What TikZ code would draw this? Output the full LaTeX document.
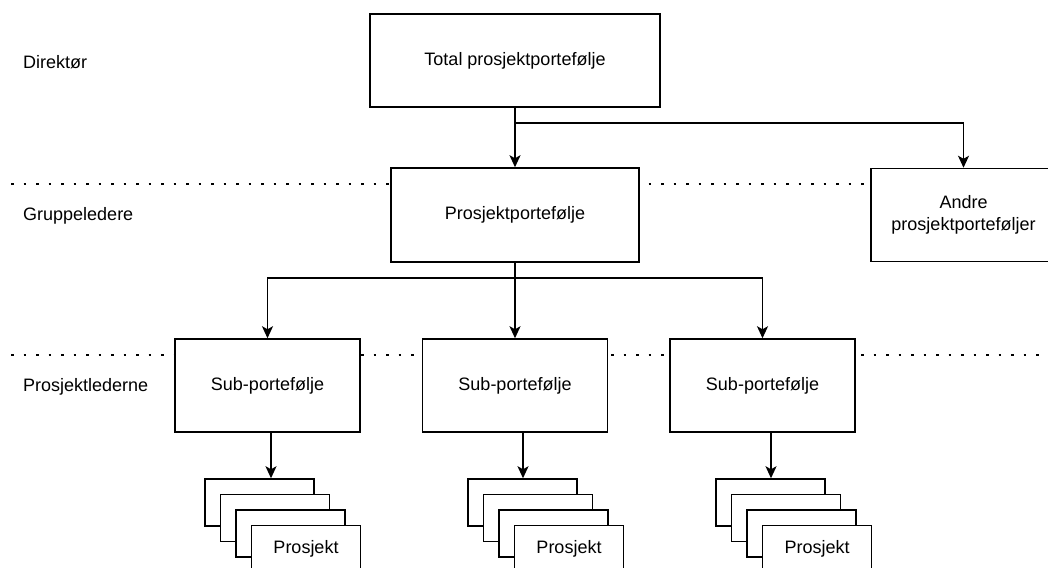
\documentclass[tikz,border=0pt]{standalone}
\usepackage{fontspec}
\setmainfont{Liberation Sans}
\usetikzlibrary{arrows.meta}
\begin{document}
\begin{tikzpicture}[x=1pt,y=-1pt,
  every node/.style={font=\fontsize{18}{21.6}\selectfont, inner sep=0pt},
  box/.style={draw, fill=white, line width=1.5pt, align=center},
  bigbox/.style={box, minimum width=290pt, minimum height=93pt},
  ppbox/.style={box, minimum width=248pt, minimum height=94pt},
  subbox/.style={box, minimum width=185pt, minimum height=93pt},
  projbox/.style={box, minimum width=109pt, minimum height=47pt},
  lvl/.style={anchor=west},
  arr/.style={line width=1.5pt, -{Stealth[length=12pt,width=11pt,inset=3pt]}},
  conn/.style={line width=1.5pt},
  dots/.style={line width=2.6pt, dash pattern=on 2.6pt off 9.9pt}
]
\clip (0,0) rectangle (1048,567);
\useasboundingbox (0,0) rectangle (1048,567);

% dotted level separators (behind boxes)
\coordinate (d1a) at (11,184);
\coordinate (d1b) at (1048,184);
\coordinate (d2a) at (11,355);
\coordinate (d2b) at (1048,355);
\draw[dots] (d1a) -- (d1b);
\draw[dots] (d2a) -- (d2b);

% level labels
\node[lvl] (lDir) at (23,62) {Direktør};
\node[lvl] (lGrp) at (23,216) {Gruppeledere};
\node[lvl] (lPro) at (23,387) {Prosjektlederne};

% boxes
\node[bigbox] (total) at (515,60.5) {Total prosjektportefølje};
\node[ppbox] (pp) at (515,215) {Prosjektportefølje};
\node[subbox] (andre) at (963.5,215) {Andre\\prosjektporteføljer};
\node[subbox] (subA) at (267.5,385.5) {Sub-portefølje};
\node[subbox] (subB) at (515,385.5) {Sub-portefølje};
\node[subbox] (subC) at (762.5,385.5) {Sub-portefølje};

% project stacks
\foreach \s/\x in {A/259.5, B/522.5, C/770.5}{
  \node[projbox] (p\s1) at (\x,502.5) {};
  \node[projbox] (p\s2) at (\x+15.5,518) {};
  \node[projbox] (p\s3) at (\x+31,533.5) {};
  \node[projbox] (p\s4) at (\x+46.5,549) {Prosjekt};
}

% connectors
\coordinate (b1) at (515,123);
\coordinate (b2) at (515,278);
\draw[arr] (total.south) -- (pp.north);
\draw[conn] (total.south) -- (b1);
\draw[arr] (b1) -| (andre.north);
\draw[arr] (pp.south) -- (subB.north);
\draw[arr] (b2) -| (subA.north);
\draw[arr] (b2) -| (subC.north);

\coordinate (aA) at (271,0);
\coordinate (aB) at (523,0);
\coordinate (aC) at (771,0);
\draw[arr] (aA |- subA.south) -- (aA |- pA1.north);
\draw[arr] (aB |- subB.south) -- (aB |- pB1.north);
\draw[arr] (aC |- subC.south) -- (aC |- pC1.north);
\end{tikzpicture}
\end{document}
